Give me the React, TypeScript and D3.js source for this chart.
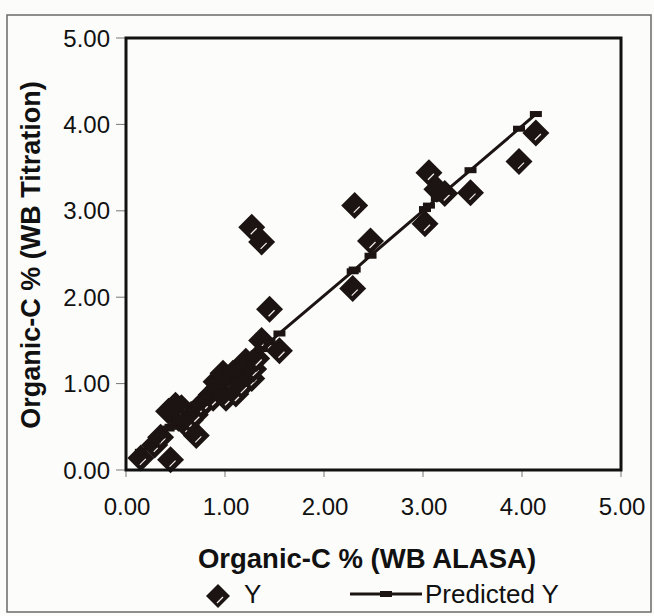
import React from 'react';
import * as d3 from 'd3';

// Observed (Y) values: x = WB ALASA, y = WB Titration
const obsX = [0.15, 0.29, 0.35, 0.45, 0.43, 0.50, 0.53, 0.56, 0.61, 0.65, 0.71, 0.70, 0.76, 0.81, 0.86, 0.88, 0.93, 0.91, 0.98, 1.01, 1.05, 1.08, 1.11, 1.15, 1.17, 1.21, 1.25, 1.27, 1.29, 1.32, 1.37, 1.55, 1.45, 1.27, 1.37, 2.29, 2.31, 2.47, 3.02, 3.06, 3.14, 3.22, 3.48, 3.97, 4.14];
const obsY = [0.14, 0.29, 0.38, 0.12, 0.68, 0.75, 0.60, 0.72, 0.52, 0.58, 0.40, 0.64, 0.75, 0.79, 0.87, 0.83, 0.95, 1.02, 1.12, 0.83, 1.04, 1.12, 0.88, 1.05, 0.97, 1.26, 1.20, 1.06, 1.17, 1.29, 1.50, 1.38, 1.86, 2.81, 2.64, 2.10, 3.06, 2.65, 2.85, 3.44, 3.25, 3.20, 3.21, 3.57, 3.90];
// Predicted Y values (regression line) at each observed x
const predY = [0.21, 0.34, 0.40, 0.50, 0.48, 0.55, 0.58, 0.61, 0.66, 0.70, 0.76, 0.75, 0.80, 0.85, 0.90, 0.92, 0.97, 0.95, 1.02, 1.05, 1.09, 1.12, 1.15, 1.19, 1.21, 1.25, 1.29, 1.30, 1.32, 1.35, 1.40, 1.58, 1.48, 1.30, 1.40, 2.30, 2.32, 2.48, 3.02, 3.06, 3.14, 3.22, 3.47, 3.95, 4.12];

const xTicks = [0, 1, 2, 3, 4, 5];
const yTicks = [0, 1, 2, 3, 4, 5];
const xTitle = 'Organic-C % (WB ALASA)';
const yTitle = 'Organic-C % (WB Titration)';
const legendLabels = ['Y', 'Predicted Y'];

const FONT = "'Liberation Sans', Arial, Helvetica, sans-serif";
const INK = '#1c1412';

function Diamond({ cx, cy, h = 13.5 }: { cx: number; cy: number; h?: number }) {
  return (
    <g transform={`translate(${cx},${cy})`}>
      <path d={`M0,${-h} L${h},0 L0,${h} L${-h},0 Z`} fill={INK} />
      <line x1={-1} y1={7} x2={5} y2={1} stroke="#f4f0ee" strokeWidth={1.2} />
    </g>
  );
}

export default function App() {
  const W = 654;
  const H = 616;
  const x = d3.scaleLinear().domain([0, 5]).range([126, 621]);
  const y = d3.scaleLinear().domain([0, 5]).range([470, 38]);
  const fmt = d3.format('.2f');

  const predPts = obsX.map((v, i) => ({ x: v, y: predY[i] })).sort((a, b) => a.x - b.x);
  const line = d3.line<{ x: number; y: number }>().x(d => x(d.x)).y(d => y(d.y));

  const [x0, x1] = x.range();
  const [y0, y1] = y.range();

  return (
    <div style={{ position: 'absolute', left: 0, top: 0 }}>
      <svg width={W} height={H} style={{ display: 'block', background: '#fcfcfa' }}>
        {/* outer chart border */}
        <rect x={7} y={15} width={644} height={597} fill="none" stroke="#6a6a6a" strokeWidth={1.5} />

        {/* y ticks & labels */}
        {yTicks.map(t => (
          <g key={'y' + t}>
            <line x1={x0 - 10} x2={x0} y1={y(t)} y2={y(t)} stroke="#777" strokeWidth={1} />
            <text x={110} y={y(t) + 8.5} textAnchor="end" fontFamily={FONT} fontSize={24} fill="#111">
              {fmt(t)}
            </text>
          </g>
        ))}
        {/* x ticks & labels */}
        {xTicks.map(t => (
          <g key={'x' + t}>
            <line x1={x(t)} x2={x(t)} y1={y0} y2={y0 + 7} stroke="#777" strokeWidth={1} />
            <text x={x(t) + 1} y={515} textAnchor="middle" fontFamily={FONT} fontSize={24} fill="#111">
              {fmt(t)}
            </text>
          </g>
        ))}

        {/* data: observed */}
        {obsX.map((v, i) => (
          <Diamond key={'d' + i} cx={x(v)} cy={y(obsY[i])} />
        ))}

        {/* predicted line and markers */}
        <path d={line(predPts) || ''} fill="none" stroke={INK} strokeWidth={3} />
        {predPts.map((p, i) => (
          <rect key={'p' + i} x={x(p.x) - 6} y={y(p.y) - 3} width={12} height={6} fill={INK} />
        ))}

        {/* plot frame */}
        <rect x={x0} y={y1} width={x1 - x0} height={y0 - y1} fill="none" stroke="#111" strokeWidth={3} />

        {/* axis titles */}
        <text x={367} y={568} textAnchor="middle" fontFamily={FONT} fontWeight="bold" fontSize={27.5} fill="#111">
          {xTitle}
        </text>
        <text
          transform={`translate(40,255) rotate(-90)`}
          textAnchor="middle"
          fontFamily={FONT}
          fontWeight="bold"
          fontSize={27}
          fill="#111"
        >
          {yTitle}
        </text>

        {/* legend */}
        <Diamond cx={218} cy={596} h={12} />
        <text x={244} y={603} fontFamily={FONT} fontSize={26} fill="#111">
          {legendLabels[0]}
        </text>
        <line x1={350} x2={422} y1={594} y2={594} stroke={INK} strokeWidth={3} />
        <rect x={380} y={591} width={12} height={6} fill={INK} />
        <text x={425} y={603} fontFamily={FONT} fontSize={26} fill="#111">
          {legendLabels[1]}
        </text>
      </svg>
    </div>
  );
}
